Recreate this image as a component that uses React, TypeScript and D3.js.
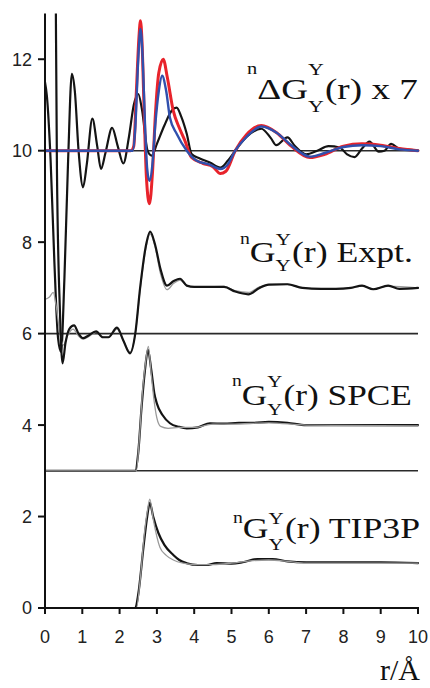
import React, { useRef, useLayoutEffect, useState } from "react";
import * as d3 from "d3";

// ---------- data (plotted values include the vertical offsets of each panel) ----------
const X_TICKS = [0, 1, 2, 3, 4, 5, 6, 7, 8, 9, 10];
const Y_TICKS = [0, 2, 4, 6, 8, 10, 12];
const BASELINES = [10, 6, 3];

// top panel: nΔG(r) x 7 (offset 10)
const dgExpt: [number, number][] = [
  [0, 11.5], [0.05, 11.2], [0.15, 9.8], [0.25, 7.6], [0.35, 5.9], [0.43, 5.6], [0.52, 7.2],
  [0.62, 9.8], [0.72, 11.68], [0.8, 11.3], [0.9, 10.0], [1.02, 9.2], [1.12, 9.7], [1.27, 10.7],
  [1.4, 10.1], [1.5, 9.6], [1.62, 9.95], [1.8, 10.5], [1.95, 10.1], [2.1, 9.72], [2.25, 10.3],
  [2.38, 11.0], [2.5, 11.24], [2.6, 10.9], [2.75, 10.0], [2.86, 9.89], [3.0, 10.15], [3.2, 10.55],
  [3.4, 10.88], [3.53, 10.94], [3.65, 10.75], [3.8, 10.37], [3.93, 9.93], [4.15, 9.83],
  [4.42, 9.74], [4.7, 9.63], [4.9, 9.78], [5.1, 10.0], [5.4, 10.3], [5.8, 10.48], [6.05, 10.28],
  [6.2, 10.12], [6.5, 10.29], [6.7, 10.1], [7.0, 9.92], [7.3, 10.0], [7.6, 10.1], [7.9, 10.07],
  [8.1, 9.92], [8.3, 9.86], [8.5, 10.05], [8.7, 10.2], [8.95, 9.98], [9.1, 10.0], [9.28, 10.15],
  [9.5, 10.04], [9.8, 10.02], [10, 10.0],
];
const dgSpce: [number, number][] = [
  [0, 10], [2.3, 10], [2.38, 10.1], [2.45, 11.3], [2.52, 12.5], [2.56, 12.84], [2.6, 12.4],
  [2.66, 10.8], [2.72, 9.4], [2.8, 8.84], [2.88, 9.5], [2.96, 10.8], [3.05, 11.7], [3.17, 12.0],
  [3.28, 11.6], [3.44, 10.87], [3.6, 10.5], [3.75, 10.22], [3.93, 9.85], [4.24, 9.72],
  [4.5, 9.65], [4.7, 9.5], [4.85, 9.55], [5.1, 10.0], [5.4, 10.35], [5.8, 10.55], [6.2, 10.4],
  [6.6, 10.1], [7.1, 9.85], [7.5, 9.92], [8.0, 10.1], [8.5, 10.15], [9.0, 10.12], [9.5, 10.05],
  [10, 10.0],
];
const dgTip3p: [number, number][] = [
  [0, 10], [2.35, 10], [2.42, 10.5], [2.5, 12.0], [2.56, 12.66], [2.62, 12.0], [2.68, 10.6],
  [2.74, 9.6], [2.8, 9.34], [2.88, 9.7], [2.96, 10.6], [3.05, 11.3], [3.14, 11.64], [3.25, 11.3],
  [3.35, 10.72], [3.53, 10.37], [3.8, 10.0], [4.07, 9.78], [4.4, 9.7], [4.7, 9.6], [4.9, 9.7],
  [5.1, 10.0], [5.4, 10.3], [5.8, 10.53], [6.2, 10.4], [6.6, 10.12], [7.1, 9.87], [7.5, 9.95],
  [8.0, 10.08], [8.5, 10.12], [9.0, 10.1], [9.5, 10.03], [10, 10.0],
];

// second panel: nG(r) Expt. (offset 6)
const gExptBlack: [number, number][] = [
  [0, 30], [0.28, 14.5], [0.32, 9.6], [0.4, 6.5], [0.47, 5.35], [0.55, 5.8], [0.65, 6.1],
  [0.78, 6.18], [0.9, 6.0], [1.02, 5.9], [1.15, 5.95], [1.37, 6.05], [1.55, 5.92], [1.7, 5.92],
  [1.93, 6.13], [2.1, 5.85], [2.28, 5.57], [2.42, 6.0], [2.55, 7.0], [2.7, 7.9], [2.82, 8.23],
  [2.95, 7.95], [3.1, 7.4], [3.27, 7.05], [3.45, 7.15], [3.62, 7.2], [3.8, 7.05], [4.0, 7.02],
  [4.5, 7.02], [4.8, 7.02], [5.1, 6.92], [5.45, 6.86], [5.75, 7.0], [6.0, 7.07], [6.5, 7.08],
  [6.9, 7.0], [7.4, 6.98], [7.8, 6.98], [8.2, 7.0], [8.5, 7.05], [8.8, 6.97], [9.2, 7.05],
  [9.5, 6.98], [10, 7.0],
];
const gExptGray: [number, number][] = [
  [0, 6.75], [0.12, 6.8], [0.22, 6.9], [0.3, 6.6], [0.4, 6.0], [0.5, 5.75], [0.6, 5.95],
  [0.75, 6.1], [0.9, 5.95], [1.02, 5.88], [1.2, 5.95], [1.37, 6.03], [1.55, 5.93], [1.7, 5.92],
  [1.93, 6.1], [2.1, 5.85], [2.28, 5.6], [2.42, 6.0], [2.55, 6.95], [2.7, 7.85], [2.82, 8.18],
  [2.95, 7.9], [3.1, 7.3], [3.27, 6.96], [3.45, 7.1], [3.62, 7.17], [3.8, 7.05], [4.0, 7.02],
  [4.8, 7.03], [5.1, 6.94], [5.45, 6.9], [5.75, 7.02], [6.0, 7.07], [6.5, 7.08], [6.9, 7.0],
  [7.4, 6.98], [8.2, 7.0], [8.5, 7.04], [8.8, 6.98], [9.2, 7.04], [10, 7.0],
];

// third panel: nG(r) SPCE (offset 3)
const gSpceBlack: [number, number][] = [
  [0, 3], [2.42, 3], [2.5, 3.4], [2.59, 4.4], [2.68, 5.2], [2.76, 5.65], [2.85, 5.2],
  [2.93, 4.7], [3.0, 4.47], [3.15, 4.22], [3.35, 4.04], [3.6, 3.96], [3.8, 3.93], [4.1, 3.95],
  [4.42, 4.04], [4.8, 4.03], [5.2, 4.05], [5.6, 4.05], [6.0, 4.07], [6.5, 4.05], [7.0, 4.0],
  [8, 4.0], [9, 4.0], [10, 4.0],
];
const gSpceGray: [number, number][] = [
  [0, 3], [2.45, 3], [2.52, 3.6], [2.62, 4.8], [2.7, 5.4], [2.77, 5.72], [2.85, 5.1],
  [2.93, 4.5], [3.0, 4.15], [3.1, 3.97], [3.3, 3.93], [3.6, 3.95], [4.0, 3.95], [4.5, 4.02],
  [5, 4.02], [6, 4.05], [7, 4.0], [10, 3.98],
];

// bottom panel: nG(r) TIP3P (offset 0)
const gTipBlack: [number, number][] = [
  [0, 0], [2.42, 0], [2.5, 0.3], [2.64, 1.33], [2.74, 2.0], [2.81, 2.3], [2.9, 2.0],
  [3.04, 1.64], [3.2, 1.38], [3.44, 1.16], [3.6, 1.05], [3.8, 0.98], [4.1, 0.94], [4.33, 0.94],
  [4.6, 0.98], [5.0, 0.97], [5.3, 1.0], [5.7, 1.07], [6.1, 1.07], [6.5, 1.02], [7, 1.0],
  [8, 1.0], [9, 1.0], [10, 0.98],
];
const gTipGray: [number, number][] = [
  [0, 0], [2.45, 0], [2.55, 0.6], [2.66, 1.6], [2.75, 2.15], [2.81, 2.38], [2.9, 1.95],
  [3.08, 1.33], [3.25, 1.15], [3.44, 1.05], [3.7, 0.98], [4.0, 0.95], [4.5, 0.95], [5.0, 0.98],
  [5.5, 1.03], [6.0, 1.05], [6.5, 1.02], [7, 0.98], [10, 0.98],
];

// ---------- layout ----------
const W = 430;
const H = 688;
const M = { left: 45, right: 418, top: 13.5, bottom: 608 };

const SERIF = "'Liberation Serif', 'Times New Roman', Times, serif";
const SANS = "'Liberation Sans', Arial, Helvetica, sans-serif";

type LabelProps = {
  x0: number; x1: number; base: number; head: string; tail: string;
  sup: number; sub: number; size: number;
};

function Label({ x0, x1, base, head, tail, sup, sub, size }: LabelProps) {
  const ref = useRef<SVGTextElement>(null);
  const [sx, setSx] = useState(1);
  useLayoutEffect(() => {
    if (ref.current) {
      const w = ref.current.getBBox().width;
      if (w > 0) setSx((x1 - x0) / w);
    }
  }, []);
  const ySize = 17;
  return (
    <g transform={`translate(${x0},${base}) scale(${sx},1)`}>
      <text ref={ref} x={0} y={0} fontFamily={SERIF} fontSize={size} fill="#111">
        <tspan fontSize={16} dy={-(sup + 1)}>n</tspan>
        <tspan fontSize={size} dy={sup + 1}>{head}</tspan>
        <tspan fontSize={ySize} dy={-sup}>Y</tspan>
        <tspan fontSize={ySize} dx={-12.3} dy={sup + sub}>Y</tspan>
        <tspan fontSize={size} dx={1} dy={-sub}>{tail}</tspan>
      </text>
    </g>
  );
}

export default function App() {
  const x = d3.scaleLinear().domain([0, 10]).range([M.left, M.right]);
  const y = d3.scaleLinear().domain([0, 13]).range([M.bottom, M.top]);
  const line = d3
    .line<[number, number]>()
    .x((d) => x(d[0]))
    .y((d) => y(d[1]))
    .curve(d3.curveMonotoneX);

  const BLACK = "#141414";
  const GRAY = "#9a9a9a";
  const RED = "#e8232b";
  const BLUE = "#3050ad";

  return (
    <svg
      width={W}
      height={H}
      viewBox={`0 0 ${W} ${H}`}
      style={{ position: "absolute", left: 0, top: 0, background: "#fff" }}
    >
      <defs>
        <clipPath id="plotclip">
          <rect x={M.left} y={M.top} width={M.right - M.left + 3} height={M.bottom - M.top} />
        </clipPath>
      </defs>

      {/* panel baselines */}
      {BASELINES.map((b) => (
        <line key={b} x1={x(0)} x2={x(10)} y1={y(b)} y2={y(b)} stroke="#2a2a2a" strokeWidth={1.6} />
      ))}

      <g clipPath="url(#plotclip)" fill="none" strokeLinejoin="round" strokeLinecap="round">
        {/* top panel */}
        <path d={line(dgExpt) || ""} stroke={BLACK} strokeWidth={2.2} />
        <path d={line(dgSpce) || ""} stroke={RED} strokeWidth={3} />
        <path d={line(dgTip3p) || ""} stroke={BLUE} strokeWidth={2.4} />
        {/* expt panel */}
        <path d={line(gExptGray) || ""} stroke={GRAY} strokeWidth={1.3} />
        <path d={line(gExptBlack) || ""} stroke={BLACK} strokeWidth={2.2} />
        {/* SPCE panel */}
        <path d={line(gSpceBlack) || ""} stroke={BLACK} strokeWidth={2.2} />
        <path d={line(gSpceGray) || ""} stroke={GRAY} strokeWidth={1.3} />
        {/* TIP3P panel */}
        <path d={line(gTipBlack) || ""} stroke={BLACK} strokeWidth={2.2} />
        <path d={line(gTipGray) || ""} stroke={GRAY} strokeWidth={1.3} />
      </g>

      {/* axes */}
      <line x1={x(0)} x2={x(0)} y1={M.top} y2={y(0)} stroke="#111" strokeWidth={2} />
      <line x1={x(0) - 1} x2={x(10) + 1} y1={y(0)} y2={y(0)} stroke="#111" strokeWidth={2} />
      {Y_TICKS.map((t) => (
        <g key={`y${t}`}>
          <line x1={x(0) - 7} x2={x(0)} y1={y(t)} y2={y(t)} stroke="#111" strokeWidth={2} />
          <text
            x={x(0) - 13}
            y={y(t)}
            dy="0.36em"
            textAnchor="end"
            fontFamily={SANS}
            fontSize={18}
            fill="#222"
          >
            {t}
          </text>
        </g>
      ))}
      {X_TICKS.map((t) => (
        <g key={`x${t}`}>
          <line x1={x(t)} x2={x(t)} y1={y(0)} y2={y(0) + 6} stroke="#111" strokeWidth={2} />
          <text
            x={x(t)}
            y={y(0) + 35}
            textAnchor="middle"
            fontFamily={SANS}
            fontSize={18}
            fill="#222"
          >
            {t}
          </text>
        </g>
      ))}

      {/* panel labels */}
      <Label x0={247} x1={418} base={99} head="ΔG" tail="(r) x 7" sup={24} sub={13} size={29} />
      <Label x0={240} x1={413} base={262} head="G" tail="(r) Expt." sup={17} sub={9} size={29} />
      <Label x0={232} x1={412} base={405} head="G" tail="(r) SPCE" sup={18} sub={10} size={29} />
      <Label x0={233} x1={420} base={538} head="G" tail="(r) TIP3P" sup={14} sub={12} size={29} />

      {/* axis title */}
      <text x={420} y={680} textAnchor="end" fontFamily={SERIF} fontSize={30} fill="#111">
        r/Å
      </text>
    </svg>
  );
}
